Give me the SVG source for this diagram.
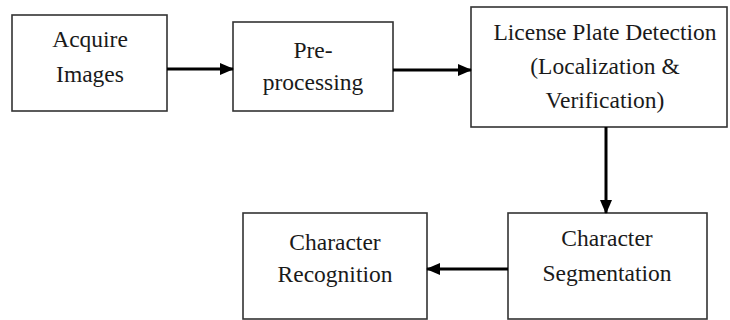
<svg xmlns="http://www.w3.org/2000/svg" width="730" height="320" viewBox="0 0 730 320">
<style>
.box{fill:#fff;stroke:#333;stroke-width:1.6}
.t{font-family:'Liberation Serif','DejaVu Serif',serif;font-size:23.5px;fill:#1a1a1a;text-anchor:middle}
.c{stroke:#000;stroke-width:3;fill:none}
</style>
<defs>
<marker id="ah" markerUnits="userSpaceOnUse" markerWidth="14" markerHeight="12" refX="13" refY="6" orient="auto">
<path d="M0,0 L14,6 L0,12 Z" fill="#000"/>
</marker>
</defs>
<rect width="730" height="320" fill="#fff"/>
<g id="n1"><rect class="box" x="12" y="15" width="155" height="96"/><text class="t" x="90" y="47">Acquire</text><text class="t" x="90" y="82">Images</text></g>
<g id="n2"><rect class="box" x="233" y="22" width="160" height="89"/><text class="t" x="313" y="58">Pre-</text><text class="t" x="313" y="90">processing</text></g>
<g id="n3"><rect class="box" x="471" y="7" width="256" height="120"/><text class="t" x="605" y="40">License Plate Detection</text><text class="t" x="605" y="74">(Localization &amp;</text><text class="t" x="605" y="108">Verification)</text></g>
<g id="n4"><rect class="box" x="243" y="213" width="184" height="106"/><text class="t" x="335" y="250">Character</text><text class="t" x="335" y="282">Recognition</text></g>
<g id="n5"><rect class="box" x="508" y="213" width="199" height="106"/><text class="t" x="607" y="246">Character</text><text class="t" x="607" y="281">Segmentation</text></g>
<g id="connectors">
<line class="c" x1="167" y1="69" x2="233" y2="69" marker-end="url(#ah)"/>
<line class="c" x1="393" y1="70" x2="471" y2="70" marker-end="url(#ah)"/>
<line class="c" x1="606" y1="127" x2="606" y2="213" marker-end="url(#ah)"/>
<line class="c" x1="508" y1="269" x2="427" y2="269" marker-end="url(#ah)"/>
</g>
</svg>
